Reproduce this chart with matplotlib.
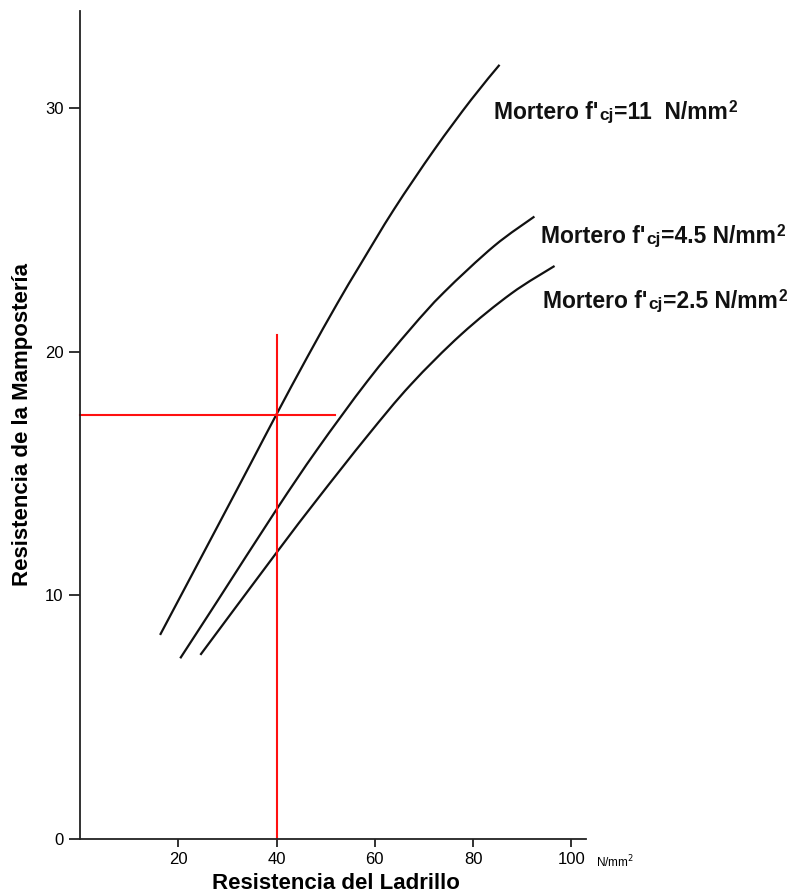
import matplotlib
matplotlib.use("Agg")
import matplotlib.pyplot as plt
from matplotlib.path import Path
from matplotlib.patches import PathPatch
from matplotlib.transforms import offset_copy

plt.rcParams['font.family'] = ['Liberation Sans', 'DejaVu Sans']

# Data
x_m11 = [16.3, 27.9, 34.7, 39.9, 46.3, 52.4, 57.1, 63.9, 72.1, 79.6, 85.4]
y_m11 = [8.38, 12.8, 15.4, 17.4, 19.8, 22.0, 23.6, 25.85, 28.3, 30.35, 31.79]
x_m45 = [20.4, 27.9, 39.9, 48.3, 58.5, 67.3, 74.1, 84.3, 92.5]
y_m45 = [7.42, 9.75, 13.5, 16.0, 18.8, 20.95, 22.45, 24.35, 25.56]
x_m25 = [24.5, 39.9, 48.3, 58.5, 67.3, 77.6, 87.8, 96.6]
y_m25 = [7.56, 11.73, 13.95, 16.55, 18.65, 20.72, 22.4, 23.53]
label_values = ["11  ", "4.5 ", "2.5 "]
label_pos = [(84.3, 29.57), (93.9, 24.48), (94.3, 21.81)]
ref_x = 40
ref_y = 17.4
ref_hline_end = 51.9
ref_vline_end = 20.7
xticks = [20, 40, 60, 80, 100]
yticks = [0, 10, 20, 30]

fig = plt.figure(figsize=(8.06, 8.96), dpi=100)
ax = fig.add_axes([80/806, 57/896, (586-80)/806, (839-11)/896])
ax.set_xlim(0, 103)
ax.set_ylim(0, 34)


def smooth_path(xs, ys):
    pts = list(zip(xs, ys))
    n = len(pts)
    verts = [pts[0]]
    codes = [Path.MOVETO]
    for i in range(n - 1):
        p0 = pts[i - 1] if i > 0 else pts[i]
        p1 = pts[i]
        p2 = pts[i + 1]
        p3 = pts[i + 2] if i + 2 < n else pts[i + 1]
        c1 = (p1[0] + (p2[0] - p0[0]) / 6, p1[1] + (p2[1] - p0[1]) / 6)
        c2 = (p2[0] - (p3[0] - p1[0]) / 6, p2[1] - (p3[1] - p1[1]) / 6)
        verts += [c1, c2, p2]
        codes += [Path.CURVE4] * 3
    return Path(verts, codes)


for xs, ys in [(x_m11, y_m11), (x_m45, y_m45), (x_m25, y_m25)]:
    ax.add_patch(PathPatch(smooth_path(xs, ys), facecolor='none',
                           edgecolor='#111111', lw=1.6, capstyle='butt'))

ax.plot([0, ref_hline_end], [ref_y, ref_y], color='#ff1010', lw=1.5, clip_on=False)
ax.plot([ref_x, ref_x], [0, ref_vline_end], color='#ff1010', lw=1.5, clip_on=False)

renderer = fig.canvas.get_renderer()
F = 16.5


def rich_label(lx, ly, pieces):
    dx = 0.0
    for txt, size, dy in pieces:
        tr = offset_copy(ax.transData, fig=fig, x=dx, y=dy, units='dots')
        t = ax.text(lx, ly, txt, fontsize=size, fontweight='bold', ha='left',
                    va='baseline', transform=tr, clip_on=False, color='#111111')
        dx += t.get_window_extent(renderer).width + 0.5


for val, (lx, ly) in zip(label_values, label_pos):
    rich_label(lx, ly, [("Mortero f'", F, 0), ("cj", F * 0.75, -1),
                        ("=" + val + "N/mm", F, 0), ("2", F * 0.68, 7)])

for s in ['top', 'right']:
    ax.spines[s].set_visible(False)
for s in ['left', 'bottom']:
    ax.spines[s].set_linewidth(1.3)
    ax.spines[s].set_color('#222222')

ax.set_xticks(xticks)
ax.set_xticklabels([str(t) for t in xticks])
ax.set_yticks(yticks)
ax.tick_params(axis='x', direction='out', length=6, width=1.3, labelsize=12, pad=3,
               color='#222222')
ax.tick_params(axis='y', direction='out', length=8, width=1.3, labelsize=12, pad=4,
               color='#222222')
ax.text(105.0, -0.93, "N/mm$^2$", fontsize=8.5, ha='left', va='center', clip_on=False)

ax.set_xlabel("Resistencia del Ladrillo", fontsize=16, fontweight='bold')
ax.xaxis.set_label_coords(0.506, -0.041)
ax.set_ylabel("Resistencia de la Mampostería", fontsize=16, fontweight='bold')
ax.yaxis.set_label_coords(-0.093, 0.5)

fig.savefig("out.png", dpi=100)
